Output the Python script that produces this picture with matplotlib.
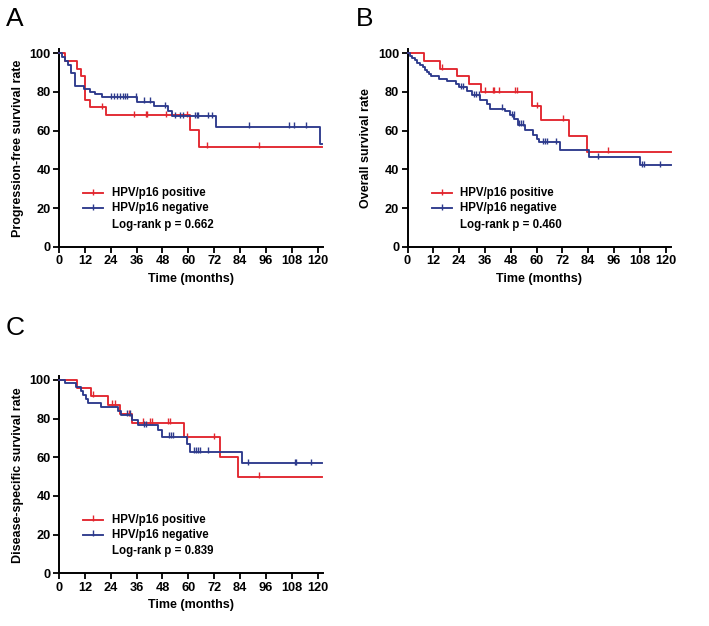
import numpy as np
import matplotlib
matplotlib.use('Agg')
import matplotlib.pyplot as plt

plt.rcParams['font.family'] = ['Liberation Sans', 'DejaVu Sans']

RED = '#E2262E'
BLUE = '#2D3A8C'

x_ticks = [0, 12, 24, 36, 48, 60, 72, 84, 96, 108, 120]
y_ticks = [0, 20, 40, 60, 80, 100]
group_labels = ['HPV/p16 positive', 'HPV/p16 negative']

# ---- Panel A: progression-free survival ----
pfs_pos_t = [3.0, 8.2, 10.2, 12.0, 14.4, 22.0, 60.6, 64.8]
pfs_pos_s = [96.0, 92.0, 88.0, 76.0, 72.0, 68.0, 60.4, 51.8]
pfs_pos_c = [19.8, 34.8, 40.2, 40.8, 49.8, 59.6, 68.7, 92.8]
pfs_pos_end = 122.2

pfs_neg_t = [1.5, 2.8, 4.0, 5.5, 7.4, 11.5, 14.2, 16.7, 19.8, 36.4, 44.0, 50.5, 52.5, 73.0, 121.0]
pfs_neg_s = [97.9, 95.8, 93.7, 89.6, 83.3, 81.6, 80.2, 78.7, 77.2, 74.9, 72.5, 70.2, 67.5, 62.0, 53.1]
pfs_neg_c = [24.0, 25.5, 27.0, 28.5, 29.8, 30.7, 31.5, 35.7, 39.5, 42.2, 49.1, 54.0, 56.0,
             57.6, 63.0, 64.0, 64.6, 69.0, 71.0, 88.0, 106.8, 108.9, 114.8]
pfs_neg_end = 122.2
pfs_p = 'Log-rank p = 0.662'

# ---- Panel B: overall survival ----
os_pos_t = [7.5, 15.0, 22.8, 28.7, 34.0, 58.0, 61.9, 75.2, 83.3]
os_pos_s = [96.0, 92.0, 88.0, 84.0, 80.0, 72.7, 65.5, 57.3, 49.1]
os_pos_c = [16.0, 36.0, 39.7, 40.3, 42.3, 50.0, 50.9, 60.0, 72.2, 93.1]
os_pos_end = 122.5

os_neg_t = [1.2, 2.3, 3.3, 4.2, 5.7, 7.0, 8.1, 9.2, 10.1, 11.0, 14.5, 18.5, 22.5, 24.1,
            27.5, 29.8, 33.8, 36.8, 38.4, 45.5, 47.5, 49.5, 51.2, 54.4, 58.5, 60.2, 60.9,
            71.0, 84.5, 108.1]
os_neg_s = [98.8, 97.6, 96.4, 95.2, 94.0, 92.8, 91.6, 90.4, 89.2, 88.0, 86.9, 85.8, 84.3, 82.5,
            80.4, 78.3, 75.9, 73.8, 71.4, 70.0, 68.0, 66.2, 62.9, 60.2, 57.5, 55.6, 54.1,
            50.0, 46.2, 42.2]
os_neg_c = [24.7, 25.8, 30.7, 31.8, 33.0, 43.9, 48.5, 49.3, 52.0, 52.8, 53.6, 62.9, 63.8,
            64.7, 69.1, 88.3, 108.9, 110.0, 117.1]
os_neg_end = 122.6
os_p = 'Log-rank p = 0.460'

# ---- Panel C: disease-specific survival ----
dss_pos_t = [8.2, 15.0, 22.9, 28.5, 34.0, 57.9, 74.9, 83.1]
dss_pos_s = [95.8, 91.7, 87.2, 82.2, 77.9, 70.3, 60.1, 50.0]
dss_pos_c = [15.9, 24.4, 26.0, 32.5, 39.0, 42.2, 43.0, 50.7, 51.4, 59.5, 72.0, 92.8]
dss_pos_end = 122.2

dss_neg_t = [2.8, 8.0, 10.2, 11.3, 12.5, 13.6, 19.5, 27.5, 28.6, 34.1, 36.5, 46.0, 47.9,
             59.2, 60.6, 85.1]
dss_neg_s = [98.3, 96.2, 94.3, 92.3, 90.2, 88.2, 86.2, 84.0, 81.9, 79.3, 76.6, 73.9, 70.6,
             67.0, 62.9, 56.9]
dss_neg_c = [31.5, 33.0, 39.5, 40.5, 51.0, 52.0, 53.0, 62.8, 63.6, 64.4, 65.2, 69.2, 87.7,
             109.3, 110.1, 117.1]
dss_neg_end = 122.2
dss_p = 'Log-rank p = 0.839'


def km(ax, times, levels, censors, end, color):
    times = np.asarray(times, float)
    levels = np.asarray(levels, float)
    x = np.concatenate([[0.0], times, [end]])
    y = np.concatenate([[100.0], levels, [levels[-1]]])
    ax.step(x, y, where='post', color=color, lw=1.35, clip_on=False, zorder=3)
    idx = np.searchsorted(times, np.asarray(censors, float), side='right')
    yc = np.concatenate([[100.0], levels])[idx]
    ax.plot(censors, yc + 0.8, ls='none', marker='|', ms=4.0, mew=1.0,
            color=color, clip_on=False, zorder=3)


def style(ax, ylabel, ptext):
    ax.set_xlim(0, 122.5)
    ax.set_ylim(0, 102)
    for s in ['top', 'right']:
        ax.spines[s].set_visible(False)
    for s in ['left', 'bottom']:
        ax.spines[s].set_linewidth(1.4)
    ax.set_xticks(x_ticks)
    ax.set_yticks(y_ticks)
    ax.tick_params(direction='out', length=4, width=1.3, labelsize=9.2, pad=2)
    for lab in ax.get_xticklabels() + ax.get_yticklabels():
        lab.set_fontweight('bold')
    ax.set_xlabel('Time (months)', fontsize=9, fontweight='bold', labelpad=4)
    ax.set_ylabel(ylabel, fontsize=9, fontweight='bold', labelpad=4)
    rows = [0.272, 0.196]
    for yy, col, lab in zip(rows, [RED, BLUE], group_labels):
        ax.plot([0.092, 0.167], [yy, yy], color=col, lw=1.35,
                transform=ax.transAxes, clip_on=False)
        ax.plot([0.1295], [yy + 0.006], marker='|', ms=4.0, mew=1.0, color=col,
                transform=ax.transAxes, clip_on=False)
        ax.text(0.2, yy, lab, transform=ax.transAxes, fontsize=8.3,
                fontweight='bold', va='center', ha='left')
    ax.text(0.2, 0.112, ptext, transform=ax.transAxes, fontsize=8.3,
            fontweight='bold', va='center', ha='left')


fig = plt.figure(figsize=(7.09, 6.26), dpi=100)
axA = fig.add_axes([0.0832, 0.6059, 0.3724, 0.3152])
axB = fig.add_axes([0.5748, 0.6059, 0.3718, 0.3152])
axC = fig.add_axes([0.0832, 0.0842, 0.3724, 0.3150])

km(axA, pfs_pos_t, pfs_pos_s, pfs_pos_c, pfs_pos_end, RED)
km(axA, pfs_neg_t, pfs_neg_s, pfs_neg_c, pfs_neg_end, BLUE)
style(axA, 'Progression-free survival rate', pfs_p)

km(axB, os_pos_t, os_pos_s, os_pos_c, os_pos_end, RED)
km(axB, os_neg_t, os_neg_s, os_neg_c, os_neg_end, BLUE)
style(axB, 'Overall survival rate', os_p)

km(axC, dss_pos_t, dss_pos_s, dss_pos_c, dss_pos_end, RED)
km(axC, dss_neg_t, dss_neg_s, dss_neg_c, dss_neg_end, BLUE)
style(axC, 'Disease-specific survival rate', dss_p)

fig.text(6 / 709, 1 - 26 / 626, 'A', fontsize=19, va='baseline', ha='left')
fig.text(356 / 709, 1 - 26 / 626, 'B', fontsize=19, va='baseline', ha='left')
fig.text(6 / 709, 1 - 335 / 626, 'C', fontsize=19, va='baseline', ha='left')

fig.savefig('out.png', dpi=100)
